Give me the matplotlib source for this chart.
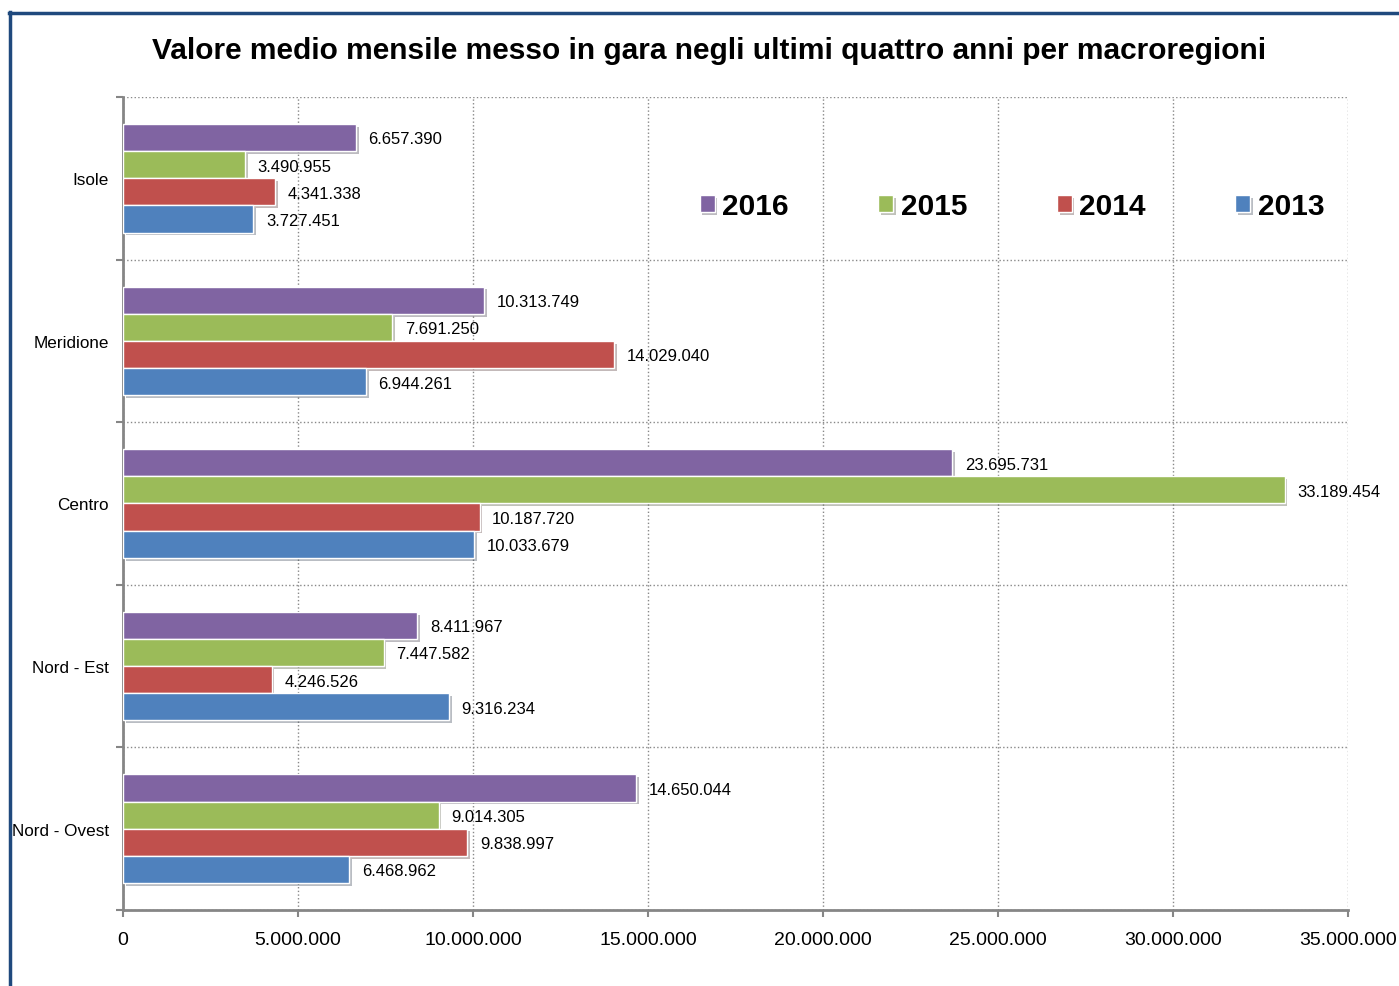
import matplotlib
matplotlib.use('Agg')
import matplotlib.pyplot as plt
import matplotlib.patheffects as pe
import numpy as np
from matplotlib.lines import Line2D
from matplotlib.ticker import FuncFormatter

plt.rcParams['font.family'] = ['Liberation Sans', 'DejaVu Sans']

regioni = ['Nord - Ovest', 'Nord - Est', 'Centro', 'Meridione', 'Isole']
anni = ['2016', '2015', '2014', '2013']
v2016 = [14650044, 8411967, 23695731, 10313749, 6657390]
v2015 = [9014305, 7447582, 33189454, 7691250, 3490955]
v2014 = [9838997, 4246526, 10187720, 14029040, 4341338]
v2013 = [6468962, 9316234, 10033679, 6944261, 3727451]
colori = ['#8064A2', '#9BBB59', '#C0504D', '#4F81BD']

serie = [v2016, v2015, v2014, v2013]

def fmt(v):
    return f"{int(v):,}".replace(',', '.')

fig = plt.figure(figsize=(13.99, 9.87), dpi=100)
ax = fig.add_axes([123/1399, 1-911/987, 1225/1399, 813/987])

y = np.arange(len(regioni))
h = 0.167
ombra = [pe.SimplePatchShadow(offset=(2, -2), alpha=0.3), pe.Normal()]
for i, (vals, col, anno) in enumerate(zip(serie, colori, anni)):
    pos = y + (1.5 - i) * h
    bars = ax.barh(pos, vals, height=h, color=col, edgecolor='white',
                   linewidth=1, label=anno, zorder=3, path_effects=ombra)
    for b, v in zip(bars, vals):
        ax.annotate(fmt(v), (v, b.get_y() + b.get_height()/2),
                    xytext=(9, -1), textcoords='offset points',
                    va='center', ha='left', fontsize=12, zorder=4)

ax.set_xlim(0, 35000000)
ax.set_ylim(-0.5, 4.5)
ax.set_xticks(np.arange(0, 35000001, 5000000))
ax.xaxis.set_major_formatter(FuncFormatter(lambda v, p: fmt(v)))
ax.set_yticks(y)
ax.set_yticklabels(regioni, fontsize=12.3)
ax.set_yticks(np.arange(-0.5, 4.6, 1), minor=True)
ax.tick_params(axis='y', which='major', length=0, pad=10)
ax.tick_params(axis='y', which='minor', length=5, color='#868686', width=1.5, direction='out')
ax.tick_params(axis='x', length=5, color='#868686', width=1.5, labelsize=14, pad=10)

ax.grid(axis='x', which='major', linestyle=':', color='#888888', linewidth=1, zorder=0)
ax.grid(axis='y', which='minor', linestyle=':', color='#888888', linewidth=1, zorder=0)
ax.set_axisbelow(True)
for s in ['top', 'right']:
    ax.spines[s].set_visible(False)
for s in ['left', 'bottom']:
    ax.spines[s].set_color('#868686')
    ax.spines[s].set_linewidth(2)

leg = ax.legend(loc='center', bbox_to_anchor=(0.7257, 0.866), ncol=4, frameon=False,
                handlelength=0.5, handleheight=0.5, handletextpad=0.25,
                columnspacing=3.0, prop={'weight': 'bold', 'size': 21.5})

fig.text(0.507, 1-51/987, 'Valore medio mensile messo in gara negli ultimi quattro anni per macroregioni',
         ha='center', va='center', fontsize=21.5, fontweight='bold')

# cornice
fig.add_artist(Line2D([10/1399, 10/1399], [0, 1-13/987], transform=fig.transFigure,
                      color='#1F497D', linewidth=2.5))
fig.add_artist(Line2D([9/1399, 1], [1-14/987, 1-14/987], transform=fig.transFigure,
                      color='#1F497D', linewidth=2.5))

fig.savefig('out.png', dpi=100)
